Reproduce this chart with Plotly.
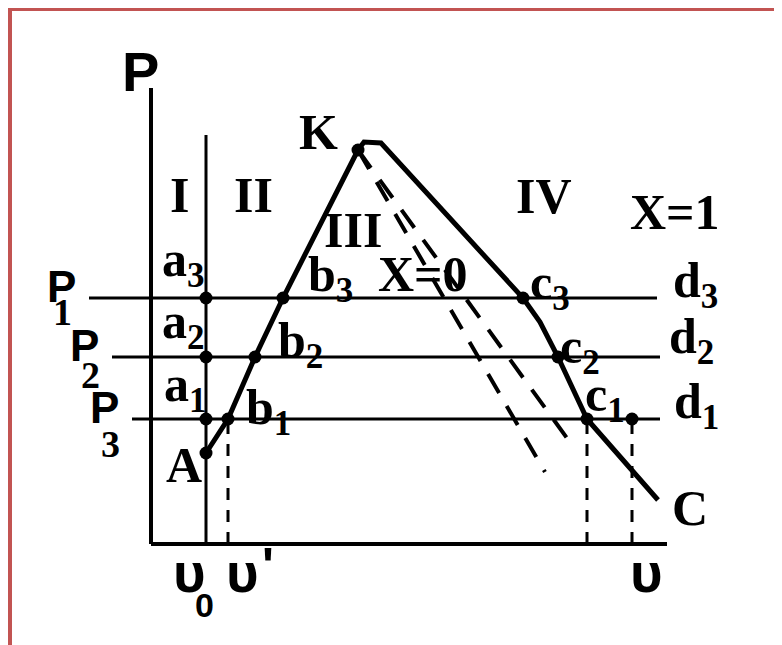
import plotly.graph_objects as go

# state points of the P-v diagram (v grows to the right, P grows upward)
v0 = 55
v_prime = 77
p_levels = [246, 187, 125]          # P1, P2, P3
p_A = 91

# saturated liquid line X=0 : A, b1, b2, b3, K
v_liq = [55, 77, 104, 132, 207]
p_liq = [91, 125, 187, 246, 394]

# saturated vapour line X=1 and superheated part : K ... c3, c2, c1, C
v_vap = [207, 213, 230, 372, 389, 407, 436, 507]
p_vap = [394, 402, 401, 246, 222, 187, 125, 44]

# isobars P1, P2, P3 (start / end of each line)
iso_v_start = [-62, -39, -19]
iso_v_end = [506, 509, 509]

# lines of constant dryness coming out of K
dry_v = [[207, 394], [207, 421]]
dry_p = [[394, 72], [394, 99]]

# point d1 and the volume v on the P3 isobar
v_d1 = 481

# axes extent
v_axis_end = 516
p_axis_end = 456
v0_line_top = 409

BLACK = 'black'
SERIF = 'Liberation Serif'
SANS = 'Liberation Sans'

fig = go.Figure()


def line(x, y, width, dash='solid'):
    fig.add_trace(go.Scatter(x=x, y=y, mode='lines', hoverinfo='skip',
                             line=dict(color=BLACK, width=width, dash=dash),
                             showlegend=False))


# axes
line([0, 0], [0, p_axis_end], 4)
line([0, v_axis_end], [0, 0], 4)
# v0 vertical
line([v0, v0], [0, v0_line_top], 3)

# isobars
for p, a, b in zip(p_levels, iso_v_start, iso_v_end):
    line([a, b], [p, p], 3)

# boundary curves
line(v_liq, p_liq, 5)
line(v_vap, p_vap, 5)

# dryness lines
for xs, ys in zip(dry_v, dry_p):
    line(xs, ys, 4, dash='22px,15px')

# dashed verticals down from P3
for xv in [v_prime, v_vap[6], v_d1]:
    line([xv, xv], [0, p_levels[2]], 3, dash='12px,10px')

# state points
pts_v = [v0, v0, v0, v0, v_liq[1], v_liq[2], v_liq[3], v_vap[3], v_vap[5], v_vap[6], v_d1, v_liq[4]]
pts_p = [p_levels[0], p_levels[1], p_levels[2], p_A, p_liq[1], p_liq[2], p_liq[3],
         p_vap[3], p_vap[5], p_vap[6], p_levels[2], p_liq[4]]
fig.add_trace(go.Scatter(x=pts_v, y=pts_p, mode='markers', hoverinfo='skip',
                         marker=dict(color=BLACK, size=13), showlegend=False))


def label(text, x, y, dx=0, dy=0, size=50, family=SERIF, bold=True):
    fig.add_annotation(x=x, y=y, xshift=dx, yshift=dy, text=text, showarrow=False,
                       xanchor='center', yanchor='middle',
                       font=dict(family=family, size=size, color=BLACK,
                                 weight='bold' if bold else 'normal'))


sub = '<sub>%s</sub>'
# a-points
label('a' + sub % '3', v0, p_levels[0], -23, 35)
label('a' + sub % '2', v0, p_levels[1], -23, 32)
label('a' + sub % '1', v0, p_levels[2], -21, 31)
label('A', v0, p_A, -22, -12)
# b-points
label('b' + sub % '3', v_liq[3], p_liq[3], 47, 20)
label('b' + sub % '2', v_liq[2], p_liq[2], 45, 13)
label('b' + sub % '1', v_liq[1], p_liq[1], 40, 8)
# c-points
label('c' + sub % '3', v_vap[3], p_vap[3], 27, 12)
label('c' + sub % '2', v_vap[5], p_vap[5], 22, 7)
label('c' + sub % '1', v_vap[6], p_vap[6], 18, 21)
# d-points
label('d' + sub % '3', iso_v_end[0], p_levels[0], 38, 14)
label('d' + sub % '2', iso_v_end[1], p_levels[1], 31, 17)
label('d' + sub % '1', v_d1, p_levels[2], 64, 14)
label('K', v_liq[4], p_liq[4], -40, 18)
label('C', v_vap[-1], p_vap[-1], 32, -8)

# regions and dryness labels
label('I', 28, 349)
label('II', 102, 349)
label('III', 202, 314)
label('IV', 393, 348)
label('X=1', 524, 332)
label('X=0', 272, 270)

# axis letters
label('P', 0, p_axis_end, -11, 17, size=56, family=SANS)
for p, a, d, s_dx, s_dy in zip(p_levels, iso_v_start, ['1', '2', '3'],
                                [-27, -22, -22], [-14, -18, -25]):
    label('P', a, p, -28, 12, size=44, family=SANS)
    label(d, a, p, s_dx, s_dy, size=38)

label('υ', v0, 0, -17, -28, size=56, family=SANS)
label('0', v0, 0, -2, -61, size=34, family=SANS)
label('υ', v_prime, 0, 14, -28, size=56, family=SANS)
label("'", v_prime, 0, 40, -22, size=50, family=SANS)
label('υ', v_d1, 0, 14, -28, size=56, family=SANS)

# red frame (page body adds an 8px offset, so the frame starts at the figure edge)
fig.add_shape(type='rect', xref='paper', yref='paper',
              x0=1 / 774, x1=1.1, y0=-0.1, y1=1 - 0 / 637,
              line=dict(color='#c25452', width=6))

fig.update_layout(
    width=774, height=637,
    margin=dict(l=0, r=0, t=0, b=0),
    plot_bgcolor='white', paper_bgcolor='white',
    xaxis=dict(range=[-143, 631], visible=False, fixedrange=True),
    yaxis=dict(range=[-101, 536], visible=False, fixedrange=True),
)

fig.write_html("out.html")
